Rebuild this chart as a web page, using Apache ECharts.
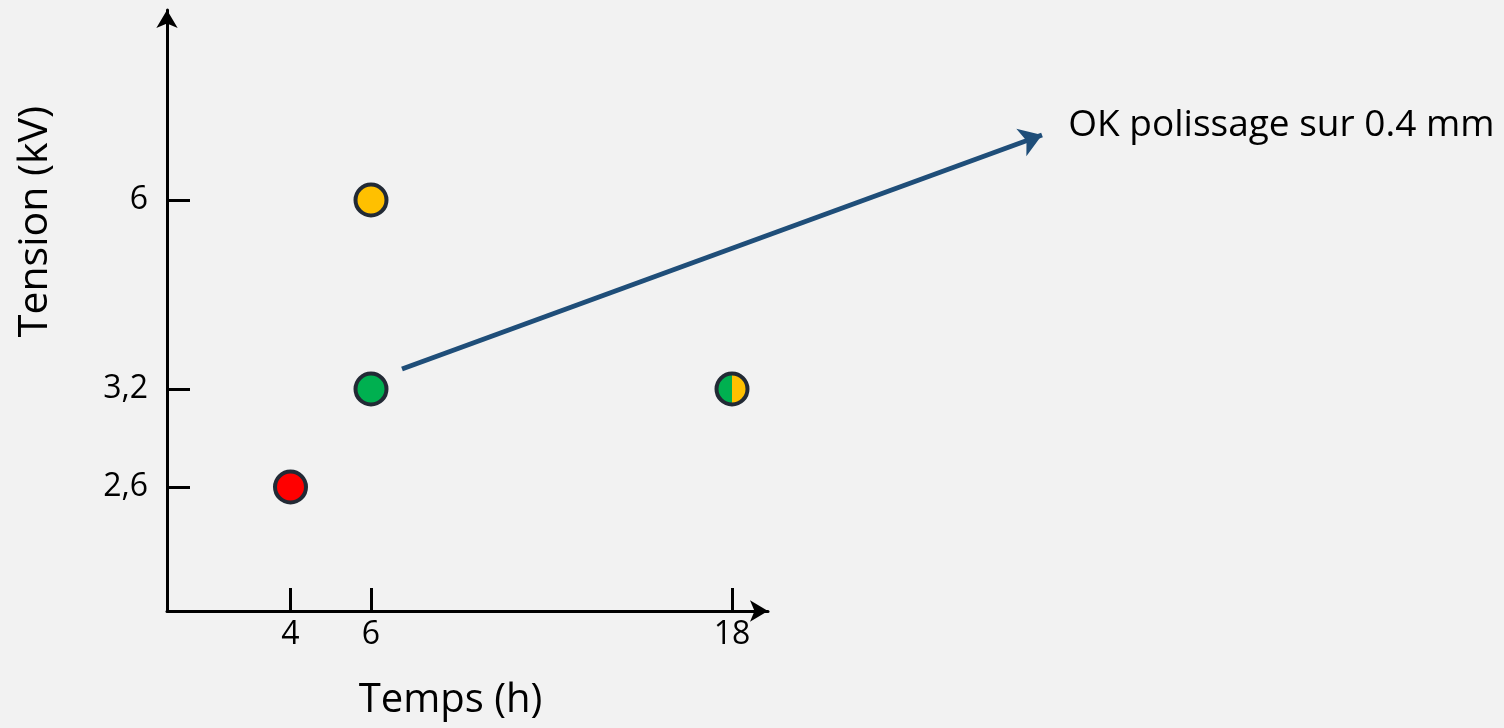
<!DOCTYPE html>
<html>
<head>
<meta charset="utf-8">
<script src="https://cdn.jsdelivr.net/npm/echarts@6/dist/echarts.min.js"></script>
<style>
  html, body { margin: 0; padding: 0; background: #F2F2F2; }
  #chart { width: 1504px; height: 728px; }
</style>
</head>
<body>
<div id="chart"></div>
<script>
// data
const xTicks = [4, 6, 18]
const yTicks = [2.6, 3.2, 6]
const tempsH = [4, 6, 6, 18]
const tensionKV = [2.6, 6, 3.2, 3.2]
const pointColors = ['#FF0000', '#FFC000', '#00B050', ['#00B050', '#FFC000']]
const noteText = 'OK polissage sur 0.4 mm'

// the drawing is not to scale: each tick has its own place on the axis
// (pairs of [value, axis unit], extrapolated past the last one)
const xScale = [[0, 0], [4, 123.5], [6, 204], [18, 565]]
const yScale = [[0, 0], [2.6, 124], [3.2, 222], [6, 411]]
const xMax = 601
const yMax = 601

const piecewise = (anchors, v) => {
	let i = 1
	while (i < anchors.length - 1 && v > anchors[i][0]) i++
	const [a0, p0] = anchors[i - 1]
	const [a1, p1] = anchors[i]
	return p0 + (v - a0) * (p1 - p0) / (a1 - a0)
}
const toX = v => piecewise(xScale, v)
const toY = v => piecewise(yScale, v)
const fmt = v => String(v).replace('.', ',')

const xLabelOf = {}
xTicks.forEach(t => { xLabelOf[toX(t).toFixed(2)] = fmt(t) })
const yLabelOf = {}
yTicks.forEach(t => { yLabelOf[toY(t).toFixed(2)] = fmt(t) })

const font = 'Open Sans'

const pointData = tempsH.map((x, i) => {
	const c = pointColors[i]
	const color = Array.isArray(c)
		? { type: 'linear', x: 0, y: 0, x2: 1, y2: 0, colorStops: [
			{ offset: 0, color: c[0] }, { offset: 0.5, color: c[0] },
			{ offset: 0.5, color: c[1] }, { offset: 1, color: c[1] }] }
		: c
	return { value: [toX(x), toY(tensionKV[i])], itemStyle: { color: color } }
})

// arrow of the note, leaving from the green point (6 h, 3,2 kV)
const noteFrom = [toX(6) + 31, toY(3.2) + 20]
const noteTo = [875, 476]

const axisLineStyle = { color: '#000', width: 3 }

const chart = echarts.init(document.getElementById('chart'))
chart.setOption({
	backgroundColor: '#F2F2F2',
	animation: false,
	grid: { left: 167, right: 736, top: 10, bottom: 117 },
	xAxis: {
		type: 'value',
		min: 0,
		max: xMax,
		name: 'Temps (h)',
		nameLocation: 'middle',
		nameGap: 70,
		nameTextStyle: { fontFamily: font, fontSize: 40, color: '#000', padding: [0, 34, 0, 0] },
		splitLine: { show: false },
		axisLine: { show: true, onZero: false, symbol: ['none', 'arrow'], symbolSize: [16, 18], lineStyle: axisLineStyle },
		axisTick: { show: true, inside: true, length: 23, customValues: xTicks.map(toX), lineStyle: axisLineStyle },
		axisLabel: {
			customValues: xTicks.map(toX),
			formatter: v => xLabelOf[v.toFixed(2)] || '',
			fontFamily: font, fontSize: 32, color: '#000', margin: 8
		}
	},
	yAxis: {
		type: 'value',
		min: 0,
		max: yMax,
		name: 'Tension (kV)',
		nameLocation: 'middle',
		nameRotate: 90,
		nameGap: 111,
		nameTextStyle: { fontFamily: font, fontSize: 41, color: '#000', padding: [0, 0, 0, 178] },
		splitLine: { show: false },
		axisLine: { show: true, onZero: false, symbol: ['none', 'arrow'], symbolSize: [16, 18], lineStyle: axisLineStyle },
		axisTick: { show: true, inside: true, length: 23, customValues: yTicks.map(toY), lineStyle: axisLineStyle },
		axisLabel: {
			customValues: yTicks.map(toY),
			formatter: v => yLabelOf[v.toFixed(2)] || '',
			fontFamily: font, fontSize: 32, color: '#000', margin: 19
		}
	},
	series: [
		{
			type: 'lines',
			coordinateSystem: 'cartesian2d',
			clip: false,
			symbol: ['none', 'arrow'],
			symbolSize: 22,
			lineStyle: { color: '#1F4E79', width: 5, opacity: 1 },
			label: {
				show: true,
				position: 'end',
				distance: 28,
				formatter: noteText,
				fontFamily: font,
				fontSize: 37,
				color: '#000'
			},
			data: [{ coords: [noteFrom, noteTo] }]
		},
		{
			type: 'scatter',
			symbolSize: 31,
			itemStyle: { borderColor: '#222A35', borderWidth: 4, opacity: 1 },
			data: pointData
		}
	]
})
</script>
</body>
</html>
